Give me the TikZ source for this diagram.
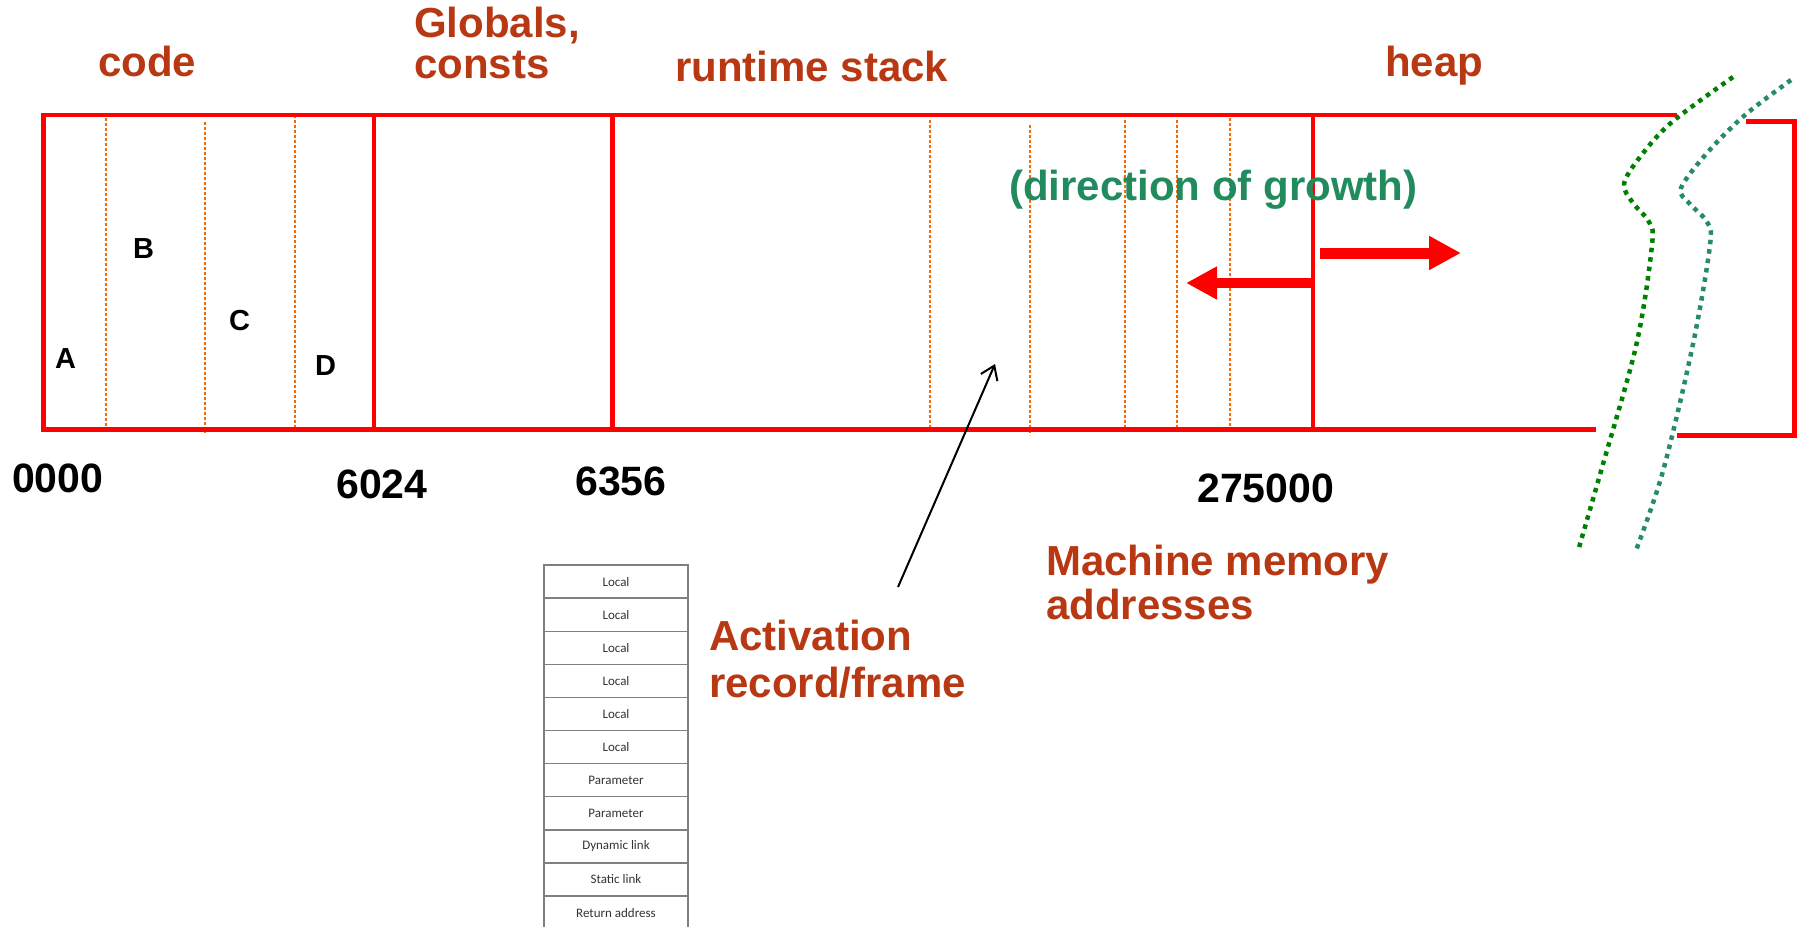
\documentclass[tikz,border=0pt]{standalone}
\usepackage{fontspec}
\setmainfont{Liberation Sans}
\newfontfamily\tblfont{Carlito}
\usetikzlibrary{arrows.meta}
\definecolor{ttlred}{RGB}{183,56,18}
\definecolor{growgreen}{RGB}{34,139,94}
\definecolor{sepor}{RGB}{255,102,0}
\definecolor{cutA}{RGB}{0,128,0}
\definecolor{cutB}{RGB}{38,140,100}
\definecolor{memred}{RGB}{255,0,0}
\begin{document}
\begin{tikzpicture}[x=1pt,y=-1pt,
  ttl/.style={anchor=base west, inner sep=0pt, text=ttlred, font=\fontsize{42}{48}\selectfont\bfseries},
  num/.style={anchor=base west, inner sep=0pt, text=black, font=\fontsize{41}{48}\selectfont\bfseries},
  letter/.style={anchor=base west, inner sep=0pt, text=black, font=\fontsize{29}{34}\selectfont\bfseries},
  growlabel/.style={anchor=base west, inner sep=0pt, text=growgreen, font=\fontsize{42}{48}\selectfont\bfseries},
  memline/.style={draw=memred, line width=4.5pt, line join=miter},
  sepline/.style={draw=sepor, line width=2pt, dash pattern=on 2.5pt off 2.5pt},
  cutline/.style={line width=4.5pt, dash pattern=on 4.5pt off 5pt},
  growarrow/.style={draw=memred, line width=10pt},
  frow/.style={draw=black!50, line width=1.4pt, minimum width=144pt, minimum height=33.1pt, inner sep=0pt, text=black!80, font=\tblfont\fontsize{13}{15}\selectfont}
]
\useasboundingbox (0,0) rectangle (1801,926);

% separators inside memory
\foreach \x/\a/\b in {106/118/430, 204.5/122/433, 294.5/115/427, 930/120/430, 1029.5/125/435, 1124.5/120/430, 1177/120/430, 1230/118/428}
  \draw[sepline] (\x,\a) -- (\x,\b);

% memory outline
\draw[memline] (1677,115) -- (43.5,115) -- (43.5,429.5) -- (1596,429.5);
\draw[memline] (374,115) -- (374,429.5);
\draw[memline] (612.5,115) -- (612.5,429.5);
\draw[memline] (1313,115) -- (1313,429.5);
\draw[memline] (1746,121.7) -- (1794.6,121.7) -- (1794.6,435.5) -- (1677,435.5);

% cut marks
\draw[cutline, draw=cutA] plot[smooth, tension=0.55] coordinates {(1733,77) (1672,122) (1640,157) (1624,184) (1633,203) (1649,222) (1652,245) (1636.5,344) (1601,471) (1578,551)};
\draw[cutline, draw=cutB] plot[smooth, tension=0.55] coordinates {(1791,80) (1745,115) (1707,153) (1681,188) (1689,203) (1707,222) (1710,245) (1693,344) (1663,471) (1635,553)};

% section titles
\node[ttl] (code) at (98,76) {code};
\node[ttl] (glob1) at (414,37) {Globals,};
\node[ttl] (glob2) at (414,78) {consts};
\node[ttl] (stack) at (675,81) {runtime stack};
\node[ttl] (heap) at (1385,76) {heap};

% procedures
\node[letter] (A) at (55,368) {A};
\node[letter] (B) at (133,258) {B};
\node[letter] (C) at (229,330) {C};
\node[letter] (D) at (315,375) {D};

% addresses
\node[num] (a0) at (12,492) {0000};
\node[num] (a1) at (336,498) {6024};
\node[num] (a2) at (575,495) {6356};
\node[num] (a3) at (1197,502) {275000};

% growth
\node[growlabel] (growth) at (1009,200) {(direction of growth)};
\coordinate (stacktop) at (1313,283);
\coordinate (stackend) at (1186,283);
\coordinate (heapstart) at (1320,253);
\coordinate (heapend) at (1461,253);
\draw[growarrow, -{Triangle[length=31pt,width=31pt]}] (stacktop) -- (stackend);
\draw[growarrow, line width=11pt, -{Triangle[length=32pt,width=32pt]}] (heapstart) -- (heapend);

% labels
\node[ttl] (act1) at (709,650) {Activation};
\node[ttl] (act2) at (709,697) {record/frame};
\node[ttl] (mach1) at (1046,575) {Machine memory};
\node[ttl] (mach2) at (1046,619) {addresses};

\coordinate (frametail) at (898,587);
\coordinate (framehead) at (995,364);
\draw[black, line width=2pt, -{Straight Barb[length=13pt,width=18pt]}] (frametail) -- (framehead);

% activation record table
\foreach \i/\t in {1/Local, 2/Local, 3/Local, 4/Local, 5/Local, 6/Local, 7/Parameter, 8/Parameter, 9/Dynamic link, 10/Static link, 11/Return address}
  \node[frow] (r\i) at (616, {565+33.1*(\i-0.5)}) {\t};
\end{tikzpicture}
\end{document}
